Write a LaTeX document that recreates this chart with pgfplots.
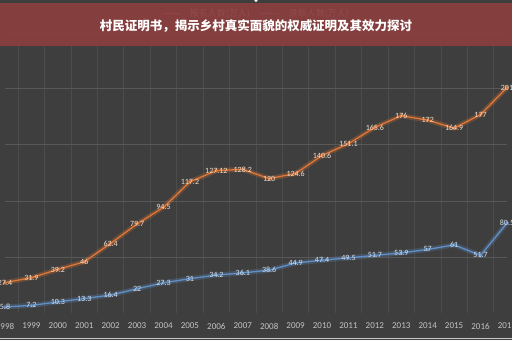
\documentclass[border=0pt]{standalone}
\usepackage{fontspec}
\usepackage{pgfplots}
\pgfplotsset{compat=1.18}
\setmainfont{Carlito}
\newfontfamily\cjk{Noto Sans CJK SC}
\definecolor{bg}{RGB}{62,62,62}
\definecolor{gridc}{RGB}{88,88,88}
\definecolor{vgrid}{RGB}{76,76,76}
\definecolor{orangeL}{RGB}{226,118,52}
\definecolor{blueL}{RGB}{96,144,200}
\definecolor{banner}{RGB}{140,62,62}
\definecolor{tickc}{RGB}{196,196,196}
\definecolor{olab}{RGB}{240,222,205}
\definecolor{blab}{RGB}{215,226,238}
\definecolor{barc}{RGB}{200,200,200}
\begin{document}
\begin{tikzpicture}[x=1pt,y=1pt]
\useasboundingbox (0,0) rectangle (512,340);
\clip (0,0) rectangle (512,340);
\fill[bg] (0,0) rectangle (512,340);
\begin{axis}[
  at={(5pt,26.5pt)}, anchor=south west,
  scale only axis, width=502pt, height=281pt,
  xmin=1998, xmax=2017, ymin=0, ymax=250,
  clip=false,
  axis line style={draw=none},
  tick style={draw=none},
  xtick={1998,1999,...,2017},
  minor xtick={1997.5,1998.5,...,2017.5},
  xticklabel style={anchor=center, yshift=-12.5pt, font=\fontsize{9}{9}\selectfont, text=tickc},
  /pgf/number format/1000 sep={},
  /pgf/number format/assume math mode=true,
  ytick={50,100,150,200,250},
  yticklabels={},
  ymajorgrids, xminorgrids,
  major grid style={gridc, line width=0.8pt},
  minor grid style={vgrid, line width=0.8pt},
  legend columns=2,
  legend style={at={(axis description cs:0.5,1.069)}, anchor=center, draw=none, fill=none,
    font=\cjk\fontsize{9}{9}\selectfont, text=tickc, column sep=8pt},
  legend image code/.code={\draw[#1, mark=none, line width=0.8pt] (0,0) -- (18pt,0);},
  nodes near coords, point meta=explicit symbolic,
  every node near coord/.append style={anchor=center, font=\fontsize{8}{8}\selectfont, yshift=0pt},
]
% glow layers
\addplot[orangeL, line width=5pt, opacity=0.25, forget plot, nodes near coords={}] coordinates {
(1998,27.4)(1999,31.9)(2000,39.2)(2001,46)(2002,62.4)(2003,79.7)(2004,94.5)(2005,117.2)(2006,127.12)(2007,128.2)(2008,120)(2009,124.6)(2010,140.6)(2011,151.1)(2012,165.6)(2013,176)(2014,172)(2015,164.9)(2016,177)(2017,201)};
\addplot[blueL, line width=5pt, opacity=0.25, forget plot, nodes near coords={}] coordinates {
(1998,5.8)(1999,7.2)(2000,10.3)(2001,13.3)(2002,16.4)(2003,22)(2004,27.3)(2005,31)(2006,34.2)(2007,36.1)(2008,38.6)(2009,44.9)(2010,47.4)(2011,49.5)(2012,51.7)(2013,53.9)(2014,57)(2015,61)(2016,51.7)(2017,80.5)};
\addplot[orangeL, line width=1.3pt, mark=*, mark size=0.9pt,
  every node near coord/.append style={text=olab}] coordinates {
(1998,27.4)[27.4] (1999,31.9)[31.9] (2000,39.2)[39.2] (2001,46)[46] (2002,62.4)[62.4] (2003,79.7)[79.7] (2004,94.5)[94.5] (2005,117.2)[117.2] (2006,127.12)[127.12] (2007,128.2)[128.2] (2008,120)[120] (2009,124.6)[124.6] (2010,140.6)[140.6] (2011,151.1)[151.1] (2012,165.6)[165.6] (2013,176)[176] (2014,172)[172] (2015,164.9)[164.9] (2016,177)[177] (2017,201)[201]};
\addlegendentry{报名人数(万人)}
\addplot[blueL, line width=1.3pt, mark=*, mark size=0.9pt,
  every node near coord/.append style={text=blab}] coordinates {
(1998,5.8)[5.8] (1999,7.2)[7.2] (2000,10.3)[10.3] (2001,13.3)[13.3] (2002,16.4)[16.4] (2003,22)[22] (2004,27.3)[27.3] (2005,31)[31] (2006,34.2)[34.2] (2007,36.1)[36.1] (2008,38.6)[38.6] (2009,44.9)[44.9] (2010,47.4)[47.4] (2011,49.5)[49.5] (2012,51.7)[51.7] (2013,53.9)[53.9] (2014,57)[57] (2015,61)[61] (2016,51.7)[51.7] (2017,80.5)[80.5]};
\addlegendentry{录取人数(万人)}
\end{axis}
\fill[banner, opacity=0.9] (0,294) rectangle (512,337);
\node[text=white, font=\cjk\bfseries\fontsize{12.5}{12.5}\selectfont] at (256,314) {村民证明书，揭示乡村真实面貌的权威证明及其效力探讨};
\fill[white] (256,339.5) circle (1.6);
\draw[barc, line width=1.5pt] (0,1.5) -- (512,1.5);
\end{tikzpicture}
\end{document}
